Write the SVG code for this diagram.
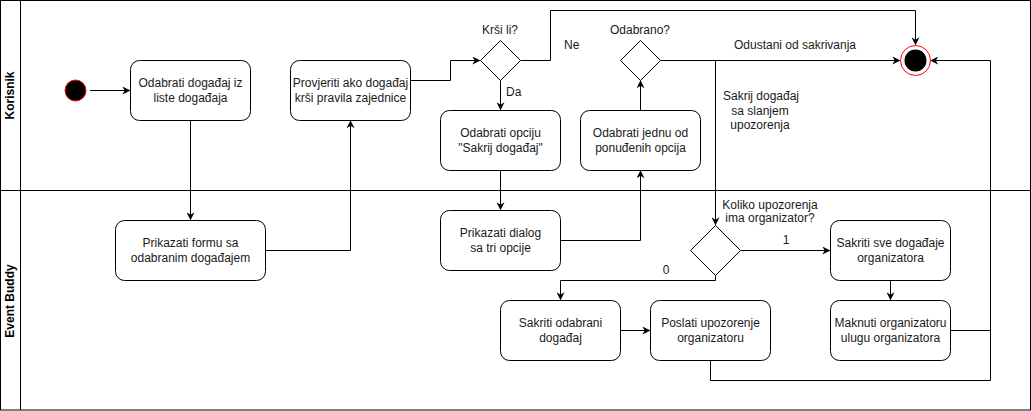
<svg xmlns="http://www.w3.org/2000/svg" width="1031" height="411" viewBox="0 0 1031 411">
<defs>
<style>
.box{fill:#fff;stroke:#000;stroke-width:1}
.t{font-family:"Liberation Sans",Arial,sans-serif;font-size:12px;fill:#1a1a1a;text-anchor:middle}
.tl{font-family:"Liberation Sans",Arial,sans-serif;font-size:12px;fill:#1a1a1a}
.lane{font-family:"Liberation Sans",Arial,sans-serif;font-size:12px;font-weight:bold;fill:#000;text-anchor:middle}
.e{fill:none;stroke:#000;stroke-width:1}
.ea{fill:none;stroke:#000;stroke-width:1;marker-end:url(#arr)}
</style>
<marker id="arr" viewBox="0 0 10 10" refX="9" refY="5" markerWidth="8" markerHeight="8" markerUnits="userSpaceOnUse" orient="auto">
<path d="M0,0 L10,5 L0,10 L3,5 Z" fill="#000"/>
</marker>
</defs>
<rect width="1031" height="411" fill="#fff"/>
<g id="lanes">
<rect x="0.5" y="0.5" width="1030" height="409.5" fill="none" stroke="#000"/>
<line x1="20.5" y1="0.5" x2="20.5" y2="410" stroke="#000"/>
<line x1="0.5" y1="190.5" x2="1030.5" y2="190.5" stroke="#000"/>
<text class="lane" transform="translate(14,95.5) rotate(-90)">Korisnik</text>
<text class="lane" transform="translate(14,301) rotate(-90)">Event Buddy</text>
</g>
<g id="connectors">
<path class="ea" d="M90 90.5 H129.5"/>
<path class="ea" d="M190.5 120.5 V219.5"/>
<path class="ea" d="M265.5 250.5 H350.5 V121"/>
<path class="ea" d="M410.5 80.5 H450.5 V60.5 H479.5"/>
<path class="ea" d="M520.5 60.5 H550.5 V10.5 H915.5 V44.5"/>
<path class="ea" d="M500.5 80.5 V109.5"/>
<path class="ea" d="M500.5 170.5 V209.5"/>
<path class="ea" d="M560.5 240.5 H640.5 V171"/>
<path class="ea" d="M640.5 110.5 V81"/>
<path class="ea" d="M660.5 60.5 H899.5"/>
<path class="ea" d="M715.5 60.5 V224.5"/>
<path class="ea" d="M740.5 250.5 H829.5"/>
<path class="ea" d="M715.5 275.5 V280.5 H560.5 V299.5"/>
<path class="ea" d="M620.5 330.5 H649.5"/>
<path class="ea" d="M890.5 280.5 V299.5"/>
<path class="e" d="M710.5 360.5 V380.5 H990.5 V330.5"/>
<path class="ea" d="M950.5 330.5 H990.5 V60.5 H931"/>
<text class="t" x="500" y="34">Krši li?</text>
<text class="tl" x="564" y="49">Ne</text>
<text class="tl" x="506" y="96">Da</text>
<text class="t" x="640" y="34">Odabrano?</text>
<text class="t" x="795" y="49">Odustani od sakrivanja</text>
<text class="t" x="761" y="100">Sakrij događaj</text>
<text class="t" x="760" y="114.5">sa slanjem</text>
<text class="t" x="760" y="129">upozorenja</text>
<text class="t" x="770" y="209">Koliko upozorenja</text>
<text class="t" x="770" y="222">ima organizator?</text>
<text class="t" x="786" y="244">1</text>
<text class="t" x="666" y="274">0</text>
</g>
<g id="start">
<circle cx="75.5" cy="90.5" r="10.5" fill="#000" stroke="#ff0000" stroke-width="1"/>
</g>
<g id="end">
<circle cx="915.5" cy="60.5" r="15" fill="#fff" stroke="#ff0000" stroke-width="1"/>
<circle cx="915.5" cy="60.5" r="11" fill="#000"/>
</g>
<g id="n1">
<rect class="box" x="130.5" y="60.5" width="120" height="60" rx="9"/>
<text class="t" x="190.5" y="87">Odabrati događaj iz</text>
<text class="t" x="190.5" y="102">liste događaja</text>
</g>
<g id="n2">
<rect class="box" x="290.5" y="60.5" width="120" height="60" rx="9"/>
<text class="t" x="350.5" y="87">Provjeriti ako događaj</text>
<text class="t" x="350.5" y="102">krši pravila zajednice</text>
</g>
<g id="d1">
<path class="box" d="M500.5 40.5 L520.5 60.5 L500.5 80.5 L480.5 60.5 Z"/>
</g>
<g id="n3">
<rect class="box" x="440.5" y="110.5" width="120" height="60" rx="9"/>
<text class="t" x="500.5" y="137">Odabrati opciju</text>
<text class="t" x="500.5" y="152">"Sakrij događaj"</text>
</g>
<g id="n4">
<rect class="box" x="580.5" y="110.5" width="120" height="60" rx="9"/>
<text class="t" x="640.5" y="137">Odabrati jednu od</text>
<text class="t" x="640.5" y="152">ponuđenih opcija</text>
</g>
<g id="d2">
<path class="box" d="M640.5 40.5 L660.5 60.5 L640.5 80.5 L620.5 60.5 Z"/>
</g>
<g id="n5">
<rect class="box" x="115.5" y="220.5" width="150" height="60" rx="9"/>
<text class="t" x="190.5" y="247">Prikazati formu sa</text>
<text class="t" x="190.5" y="262">odabranim događajem</text>
</g>
<g id="n6">
<rect class="box" x="440.5" y="210.5" width="120" height="60" rx="9"/>
<text class="t" x="500.5" y="237">Prikazati dialog</text>
<text class="t" x="500.5" y="252">sa tri opcije</text>
</g>
<g id="d3">
<path class="box" d="M715.5 225.5 L740.5 250.5 L715.5 275.5 L690.5 250.5 Z"/>
</g>
<g id="n7">
<rect class="box" x="830.5" y="220.5" width="120" height="60" rx="9"/>
<text class="t" x="890.5" y="247">Sakriti sve događaje</text>
<text class="t" x="890.5" y="262">organizatora</text>
</g>
<g id="n8">
<rect class="box" x="830.5" y="300.5" width="120" height="60" rx="9"/>
<text class="t" x="890.5" y="327">Maknuti organizatoru</text>
<text class="t" x="890.5" y="342">ulugu organizatora</text>
</g>
<g id="n9">
<rect class="box" x="500.5" y="300.5" width="120" height="60" rx="9"/>
<text class="t" x="560.5" y="327">Sakriti odabrani</text>
<text class="t" x="560.5" y="342">događaj</text>
</g>
<g id="n10">
<rect class="box" x="650.5" y="300.5" width="120" height="60" rx="9"/>
<text class="t" x="710.5" y="327">Poslati upozorenje</text>
<text class="t" x="710.5" y="342">organizatoru</text>
</g>
</svg>
